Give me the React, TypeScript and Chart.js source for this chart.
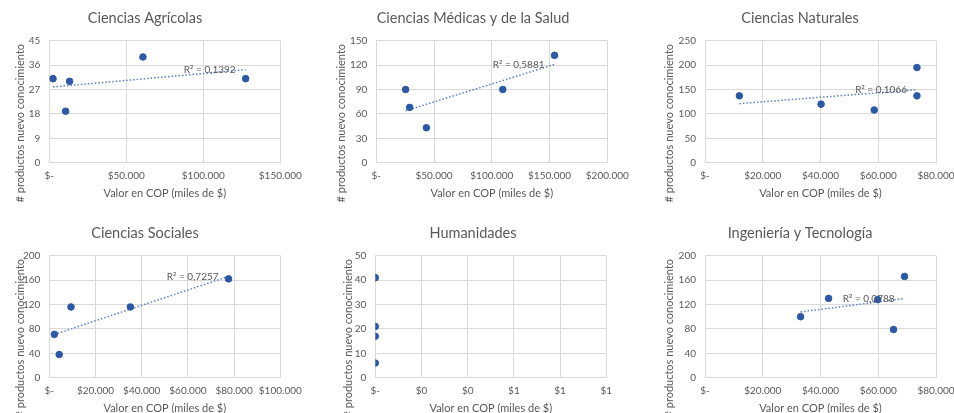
import React, { useEffect, useRef } from "react";
import { Chart, registerables } from "chart.js";

Chart.register(...registerables);

// ---------- DATA ----------
const panelTitles = [
  "Ciencias Agrícolas",
  "Ciencias Médicas y de la Salud",
  "Ciencias Naturales",
  "Ciencias Sociales",
  "Humanidades",
  "Ingeniería y Tecnología",
];

const xAxisTitle = "Valor en COP (miles de $)";
const yAxisTitle = "# productos nuevo conocimiento";

const agricolasCOP = [2400, 10600, 13200, 60800, 127500];
const agricolasProductos = [31, 19, 30, 39, 31];
const medicasCOP = [25400, 28900, 43400, 109500, 154300];
const medicasProductos = [90, 68, 43, 90, 132];
const naturalesCOP = [11900, 40200, 58600, 73400, 73400];
const naturalesProductos = [137, 120, 108, 195, 137];
const socialesCOP = [2200, 4300, 9400, 35100, 77600];
const socialesProductos = [71, 38, 116, 116, 162];
const humanidadesCOP = [0, 0, 0, 0];
const humanidadesProductos = [41, 21, 17, 6];
const ingenieriaCOP = [33100, 42800, 59800, 65300, 69100];
const ingenieriaProductos = [100, 130, 128, 79, 166];

const r2Labels = ["R² = 0,1392", "R² = 0,5881", "R² = 0,1066", "R² = 0,7257", "", "R² = 0,0788"];

const xTicksAgricolas = ["$-", "$50.000", "$100.000", "$150.000"];
const xTicksMedicas = ["$-", "$50.000", "$100.000", "$150.000", "$200.000"];
const xTicksNaturales = ["$-", "$20.000", "$40.000", "$60.000", "$80.000"];
const xTicksSociales = ["$-", "$20.000", "$40.000", "$60.000", "$80.000", "$100.000"];
const xTicksHumanidades = ["$-", "$0", "$0", "$1", "$1", "$1"];
const xTicksIngenieria = ["$-", "$20.000", "$40.000", "$60.000", "$80.000"];

// axis ranges: [min, max, step]
const xRanges = [
  [0, 150000, 50000],
  [0, 200000, 50000],
  [0, 80000, 20000],
  [0, 100000, 20000],
  [0, 1, 0.2],
  [0, 80000, 20000],
];
const yRanges = [
  [0, 45, 9],
  [0, 150, 30],
  [0, 250, 50],
  [0, 200, 40],
  [0, 50, 10],
  [0, 200, 40],
];

const panelX = [agricolasCOP, medicasCOP, naturalesCOP, socialesCOP, humanidadesCOP, ingenieriaCOP];
const panelY = [
  agricolasProductos,
  medicasProductos,
  naturalesProductos,
  socialesProductos,
  humanidadesProductos,
  ingenieriaProductos,
];
const panelXTicks = [
  xTicksAgricolas,
  xTicksMedicas,
  xTicksNaturales,
  xTicksSociales,
  xTicksHumanidades,
  xTicksIngenieria,
];

// ---------- LAYOUT / STYLE ----------
const W = 318;
const H = 208;
const PLOT_BOTTOM = 162.7;
const XTITLE_CENTER = 193.2;
const layouts = [
  { left: 0, top: 0, padL: 9.7, yWidth: 39.6, padR: 37.7, yTitleX: 20.7 },
  { left: 318, top: 0, padL: 20.7, yWidth: 37.6, padR: 28.7, yTitleX: 23 },
  { left: 636, top: 0, padL: 28, yWidth: 41, padR: 18, yTitleX: 33.3 },
  { left: 0, top: 214.6, padL: 9.7, yWidth: 39.6, padR: 37.7, yTitleX: 20.7 },
  { left: 318, top: 214.6, padL: 21.7, yWidth: 35.6, padR: 29.7, yTitleX: 30 },
  { left: 636, top: 214.6, padL: 28, yWidth: 41, padR: 18, yTitleX: 33.3 },
];

const FONT = "Lato, 'Open Sans', sans-serif";
const TEXT = "#595959";
const GRID = "#d9d9d9";
const POINT = "#2b59a6";
const TREND = "#5a7ec2";

function regression(xs: number[], ys: number[]) {
  const n = xs.length;
  const mx = xs.reduce((a, b) => a + b, 0) / n;
  const my = ys.reduce((a, b) => a + b, 0) / n;
  let sxy = 0;
  let sxx = 0;
  for (let i = 0; i < n; i++) {
    sxy += (xs[i] - mx) * (ys[i] - my);
    sxx += (xs[i] - mx) * (xs[i] - mx);
  }
  if (sxx === 0) return null;
  const b = sxy / sxx;
  const a = my - b * mx;
  const x0 = Math.min(...xs);
  const x1 = Math.max(...xs);
  return [
    { x: x0, y: a + b * x0 },
    { x: x1, y: a + b * x1 },
  ];
}

const yTitlePlugin = {
  id: "yTitleCustom",
  afterDraw(chart: any, _args: any, opts: any) {
    const { ctx, chartArea } = chart;
    ctx.save();
    ctx.translate(opts.x, (chartArea.top + chartArea.bottom) / 2 + 21.5);
    ctx.rotate(-Math.PI / 2);
    ctx.fillStyle = TEXT;
    ctx.font = `11px ${FONT}`;
    ctx.textAlign = "center";
    ctx.textBaseline = "middle";
    ctx.fillText(opts.text, 0, 0);
    ctx.restore();
  },
};

const r2Plugin = {
  id: "r2Label",
  afterDatasetsDraw(chart: any, _args: any, opts: any) {
    if (!opts.text || chart.data.datasets.length < 2) return;
    const meta = chart.getDatasetMeta(1);
    const pts = meta.data;
    if (!pts || pts.length < 2) return;
    const end = pts[pts.length - 1];
    const { ctx } = chart;
    ctx.save();
    ctx.fillStyle = TEXT;
    ctx.font = `10px ${FONT}`;
    ctx.textAlign = "right";
    ctx.textBaseline = "middle";
    ctx.fillText(opts.text, end.x - 10, end.y);
    ctx.restore();
  },
};

function Panel({ index }: { index: number }) {
  const ref = useRef<HTMLCanvasElement>(null);
  useEffect(() => {
    if (!ref.current) return;
    const lay = layouts[index];
    const xs = panelX[index];
    const ys = panelY[index];
    const [xMin, xMax, xStep] = xRanges[index];
    const [yMin, yMax, yStep] = yRanges[index];
    const tickLabels = panelXTicks[index];
    const trend = regression(xs, ys);

    const datasets: any[] = [
      {
        label: panelTitles[index],
        data: xs.map((x, i) => ({ x, y: ys[i] })),
        backgroundColor: POINT,
        borderColor: POINT,
        pointRadius: 3.3,
        pointHoverRadius: 3.3,
        order: 0,
      },
    ];
    if (trend) {
      datasets.push({
        label: "Tendencia",
        data: trend,
        showLine: true,
        borderColor: TREND,
        borderWidth: 1.5,
        borderDash: [1.5, 2],
        pointRadius: 0,
        fill: false,
        order: 1,
      });
    }

    const chart = new Chart(ref.current, {
      type: "scatter",
      data: { datasets },
      plugins: [yTitlePlugin, r2Plugin],
      options: {
        responsive: false,
        animation: false,
        layout: { padding: { left: lay.padL, right: lay.padR, top: 0, bottom: 0 } },
        plugins: {
          legend: { display: false },
          tooltip: { enabled: false },
          title: {
            display: true,
            text: panelTitles[index],
            color: TEXT,
            font: { family: FONT, size: 14.5, weight: "normal" },
            padding: { top: 9.5, bottom: 13.8 },
          },
          yTitleCustom: { text: yAxisTitle, x: lay.yTitleX },
          r2Label: { text: r2Labels[index] },
        } as any,
        scales: {
          x: {
            type: "linear",
            min: xMin,
            max: xMax,
            ticks: {
              stepSize: xStep,
              color: TEXT,
              font: { family: FONT, size: 10 },
              padding: 7,
              maxRotation: 0,
              autoSkip: false,
              callback: (_v: any, i: number) => tickLabels[i],
            },
            grid: { color: GRID, drawTicks: false, lineWidth: 1 },
            border: { color: GRID, width: 1 },
            title: {
              display: true,
              text: xAxisTitle,
              color: TEXT,
              font: { family: FONT, size: 11 },
              padding: { top: 0, bottom: H - XTITLE_CENTER - 6.6 },
            },
            afterFit: (axis: any) => {
              axis.height = H - PLOT_BOTTOM;
              axis.paddingLeft = 0;
              axis.paddingRight = 0;
            },
          },
          y: {
            type: "linear",
            min: yMin,
            max: yMax,
            ticks: {
              stepSize: yStep,
              color: TEXT,
              font: { family: FONT, size: 10 },
              padding: 9,
            },
            grid: { color: GRID, drawTicks: false, lineWidth: 1 },
            border: { color: GRID, width: 1 },
            afterFit: (axis: any) => {
              axis.width = lay.yWidth;
              axis.paddingTop = 0;
              axis.paddingBottom = 0;
            },
          },
        },
      } as any,
    });
    return () => chart.destroy();
  }, [index]);

  const lay = layouts[index];
  return (
    <div style={{ position: "absolute", left: lay.left, top: lay.top, width: W, height: H }}>
      <canvas ref={ref} width={W} height={H} style={{ display: "block", width: W, height: H }} />
    </div>
  );
}

export default function App() {
  return (
    <div
      style={{
        position: "absolute",
        left: 0,
        top: 0,
        width: 954,
        height: 413,
        overflow: "hidden",
        background: "#ffffff",
      }}
    >
      {panelTitles.map((_t, i) => (
        <Panel key={i} index={i} />
      ))}
    </div>
  );
}
